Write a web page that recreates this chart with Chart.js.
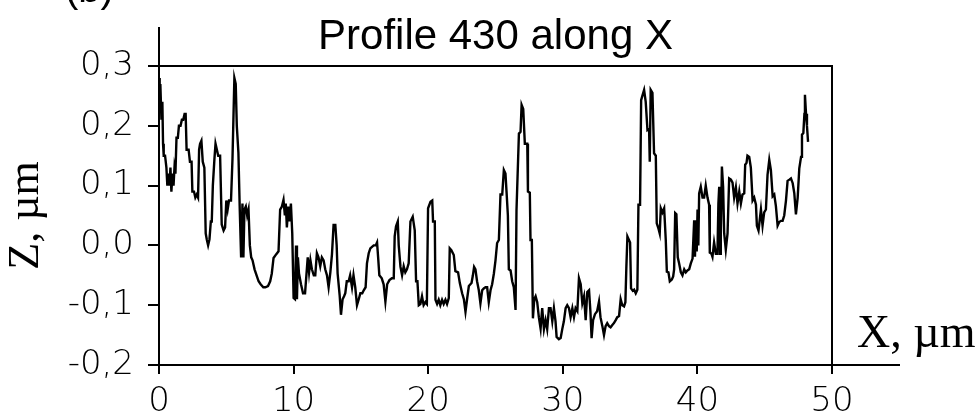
<!DOCTYPE html>
<html>
<head>
<meta charset="utf-8">
<script src="https://cdn.jsdelivr.net/npm/chart.js@4"></script>
<style>
  body { margin: 0; background: #fff; }
</style>
</head>
<body>
<canvas id="perfil" width="980" height="416"></canvas>
<script>
// Posiciones a lo largo del perfil (µm)
const posicionesX = [
  0.00, 0.05, 0.10, 0.18, 0.25, 0.30, 0.35, 0.45, 0.55, 0.62, 0.70, 0.78, 0.85, 0.92, 1.00, 1.08, 1.15, 1.22,
  1.30, 1.40, 1.48, 1.60, 1.70, 1.80, 1.90, 1.98, 2.05, 2.20, 2.30, 2.42, 2.48, 2.60, 2.70, 2.80, 2.90, 2.98,
  3.05, 3.15, 3.25, 3.37, 3.47, 3.55, 3.65, 3.75, 3.85, 3.92, 4.00, 4.12, 4.20, 4.30, 4.40, 4.54, 4.66, 4.80,
  4.91, 5.00, 5.10, 5.20, 5.35, 5.46, 5.60, 5.70, 5.78, 5.90, 6.00, 6.10, 6.20, 6.27, 6.35, 6.45, 6.55, 6.65,
  6.75, 6.85, 6.95, 7.10, 7.25, 7.40, 7.55, 7.75,
  7.90, 8.10, 8.26, 8.38, 8.51, 8.70, 8.88, 9.00, 9.13, 9.25, 9.35, 9.42, 9.50, 9.60, 9.70, 9.80, 9.90,
  10.00, 10.10, 10.18, 10.25, 10.32, 10.40, 10.55, 10.70, 10.85, 10.99, 11.05, 11.15, 11.25, 11.36, 11.50,
  11.61, 11.73, 11.85, 11.98, 12.10, 12.23, 12.35, 12.48, 12.60, 12.73, 12.85, 12.97, 13.10, 13.20, 13.27,
  13.42, 13.52, 13.64, 13.75, 13.84, 13.95, 14.09, 14.20, 14.34, 14.45, 14.58, 14.71, 14.84, 14.96, 15.10,
  15.21, 15.35, 15.45,
  15.58, 15.70, 15.95, 16.10, 16.20, 16.28, 16.37, 16.55, 16.69, 16.82, 16.95, 17.12, 17.30, 17.44, 17.51,
  17.61, 17.74, 17.81, 17.94, 18.06, 18.18, 18.30, 18.42, 18.55, 18.68, 18.85, 19.00, 19.10, 19.20, 19.30,
  19.42, 19.54, 19.66, 19.79, 19.90, 19.99, 20.17, 20.30, 20.36, 20.49, 20.54, 20.66, 20.78, 20.90, 21.03,
  21.15, 21.28, 21.40, 21.53, 21.60, 21.72, 21.90, 22.02, 22.22, 22.35, 22.52, 22.65, 22.77, 22.90, 23.02,
  23.22, 23.32, 23.41,
  23.51, 23.63, 23.76, 23.88, 24.01, 24.13, 24.26, 24.38, 24.50, 24.63, 24.75, 24.88, 25.00, 25.12, 25.25,
  25.37, 25.50, 25.62, 25.74, 25.82, 25.92, 25.99, 26.12, 26.24, 26.36, 26.49, 26.56, 26.74, 26.86, 26.94,
  27.06, 27.18, 27.36, 27.41, 27.55, 27.60, 27.70, 27.78, 27.88, 27.98, 28.10, 28.22, 28.35, 28.47, 28.60,
  28.72, 28.84, 28.97, 29.09, 29.22, 29.34, 29.46, 29.54, 29.71, 29.84, 29.96, 30.08, 30.21, 30.33, 30.46,
  30.58, 30.71, 30.83, 30.95, 31.08, 31.20, 31.33, 31.45, 31.58, 31.70, 31.82, 31.95,
  32.05, 32.14, 32.25, 32.39, 32.55, 32.69, 32.80, 32.94, 33.06, 33.18, 33.30, 33.43, 33.55, 33.68, 33.80,
  33.93, 34.05, 34.18, 34.30, 34.42, 34.55, 34.65, 34.72, 34.80, 34.90, 35.00, 35.07, 35.20, 35.30, 35.42,
  35.54, 35.62, 35.74, 35.82, 35.91, 36.04, 36.16, 36.29, 36.41, 36.46, 36.53, 36.66, 36.78, 36.91, 36.98,
  37.11, 37.20, 37.28, 37.40, 37.53, 37.65, 37.73, 37.85, 37.95, 38.10, 38.20, 38.27, 38.35, 38.44, 38.54,
  38.64, 38.77, 38.89, 39.02, 39.14, 39.26, 39.39, 39.51, 39.64, 39.76, 39.82, 39.88, 39.95, 40.01, 40.07,
  40.13,
  40.25, 40.38, 40.50, 40.62, 40.75, 40.87, 40.92, 41.05, 41.12, 41.24, 41.37, 41.49, 41.56, 41.62, 41.68,
  41.74, 41.82, 41.91, 41.99, 42.11, 42.24, 42.36, 42.49, 42.61, 42.73, 42.86, 42.98, 43.11, 43.23, 43.35,
  43.48, 43.55, 43.65, 43.72, 43.85, 43.97, 44.10, 44.22, 44.35, 44.42, 44.54, 44.72, 44.84, 44.96, 45.09,
  45.21, 45.34, 45.46, 45.59, 45.71, 45.83, 45.96, 46.08, 46.21, 46.33, 46.45, 46.58, 46.70, 46.83, 46.95,
  47.08, 47.20, 47.32, 47.45, 47.57, 47.70, 47.77, 47.87, 47.95, 47.99, 48.07, 48.14, 48.22
];

const alturasZ = [
  0.28, 0.23, 0.27, 0.21, 0.24, 0.17, 0.15, 0.15, 0.13, 0.10, 0.12, 0.10, 0.13, 0.09, 0.12, 0.10, 0.13, 0.12,
  0.18, 0.18, 0.20, 0.20, 0.21, 0.21, 0.22, 0.22, 0.16, 0.16, 0.14, 0.14, 0.09, 0.09, 0.08, 0.085, 0.08, 0.16,
  0.17, 0.175, 0.14, 0.13, 0.02, 0.01, 0.0, 0.01, 0.04, 0.04, 0.10, 0.145, 0.17, 0.16, 0.15, 0.15, 0.035, 0.025,
  0.03, 0.075, 0.06, 0.075, 0.075, 0.145, 0.28, 0.27, 0.20, 0.155, 0.06, -0.02, 0.07, -0.02, 0.06, 0.065, 0.05, 0.06,
  0.0, -0.02, -0.025, -0.04, -0.05, -0.06, -0.065, -0.07,
  -0.07, -0.068, -0.06, -0.047, -0.021, -0.015, -0.01, 0.06, 0.065, 0.076, 0.05, 0.07, 0.03, 0.065, 0.04, 0.07, 0.02,
  -0.088, -0.09, 0.0, -0.09, -0.02, -0.047, -0.065, -0.08, -0.08, -0.038, -0.02, -0.045, -0.025, -0.04, -0.05,
  -0.05, -0.013, -0.02, -0.035, -0.02, -0.025, -0.04, -0.05, -0.07, -0.045, -0.015, 0.034, 0.034, 0.0, -0.047,
  -0.083, -0.116, -0.09, -0.085, -0.08, -0.06, -0.06, -0.05, -0.07, -0.05, -0.07, -0.10, -0.09, -0.08, -0.08,
  -0.075, -0.07, -0.03,
  -0.013, -0.005, 0.0, 0.0, 0.005, -0.02, -0.05, -0.055, -0.065, -0.094, -0.065, -0.058, -0.055, -0.055, 0.015,
  0.032, 0.04, 0.0, -0.036, -0.05, -0.035, -0.045, -0.04, -0.03, 0.04, 0.048, 0.025, -0.06, -0.06, -0.10,
  -0.098, -0.085, -0.10, -0.095, -0.098, 0.062, 0.073, 0.075, 0.04, 0.04, -0.091, -0.098, -0.091, -0.10, -0.091,
  -0.098, -0.091, -0.098, -0.088, -0.005, -0.008, -0.016, -0.043, -0.045, -0.063, -0.08, -0.09, -0.111, -0.088, -0.068,
  -0.063, -0.05, -0.036,
  -0.04, -0.06, -0.075, -0.097, -0.075, -0.072, -0.07, -0.07, -0.095, -0.075, -0.065, -0.047, -0.025, 0.004, 0.009,
  0.085, 0.085, 0.126, 0.12, 0.09, 0.05, -0.04, -0.042, -0.06, -0.07, -0.108, 0.059, 0.187, 0.19, 0.235,
  0.228, 0.17, 0.17, 0.09, 0.088, 0.009, 0.009, -0.122, -0.09, -0.085, -0.095, -0.12, -0.139, -0.105, -0.14,
  -0.125, -0.14, -0.105, -0.105, -0.127, -0.105, -0.127, -0.153, -0.157, -0.155, -0.14, -0.127, -0.105, -0.10, -0.105,
  -0.12, -0.105, -0.12, -0.105, -0.11, -0.055, -0.065, -0.097, -0.085, -0.125, -0.078, -0.075,
  -0.11, -0.155, -0.125, -0.115, -0.11, -0.094, -0.12, -0.135, -0.15, -0.135, -0.13, -0.135, -0.137, -0.133, -0.13,
  -0.125, -0.12, -0.118, -0.09, -0.10, -0.102, -0.095, -0.038, 0.015, 0.01, 0.005, -0.072, -0.076, -0.074, -0.08,
  -0.074, 0.068, 0.068, 0.243, 0.25, 0.26, 0.24, 0.193, 0.195, 0.14, 0.26, 0.255, 0.154, 0.15, 0.037,
  0.028, 0.02, 0.062, 0.055, 0.062, 0.009, -0.044, -0.045, -0.06, -0.057, -0.052, -0.04, 0.054, 0.052, -0.02,
  -0.03, -0.045, -0.05, -0.04, -0.045, -0.042, -0.04, -0.03, -0.022, 0.042, -0.019, 0.04, -0.01, 0.06, 0.0,
  0.087,
  0.098, 0.08, 0.08, 0.10, 0.08, 0.068, -0.012, -0.014, -0.019, 0.005, -0.014, -0.014, 0.07, 0.098, -0.014,
  0.02, 0.132, 0.098, 0.02, -0.007, 0.02, 0.112, 0.11, 0.105, 0.08, 0.097, 0.07, 0.09, 0.07, 0.085,
  0.087, 0.135, 0.138, 0.15, 0.148, 0.13, 0.075, 0.08, 0.068, 0.033, 0.025, 0.06, 0.033, 0.055, 0.06,
  0.118, 0.143, 0.126, 0.082, 0.085, 0.066, 0.033, 0.039, 0.041, 0.041, 0.05, 0.075, 0.108, 0.11, 0.112,
  0.104, 0.087, 0.052, 0.08, 0.129, 0.148, 0.185, 0.188, 0.22, 0.252, 0.22, 0.20, 0.173
];

// Marcas de los ejes
const ticksX = [0, 10, 20, 30, 40, 50];
const ticksY = [-0.2, -0.1, 0.0, 0.1, 0.2, 0.3];

// Textos
const tituloGrafico = "Profile 430 along X";
const tituloEjeY = "Z, µm";
const tituloEjeX = "X, µm";
const etiquetaPanel = "(b)";

// Convierte 0.1 en "0,1"
function formatoComa(v) {
  return v.toFixed(1).replace(".", ",");
}

// Dibuja el marco, las prolongaciones de los ejes y los textos sueltos
const marcoPlugin = {
  id: "marco",
  afterDraw(chart) {
    const ctx = chart.ctx;
    const ejeX = chart.scales.x;
    const ejeY = chart.scales.y;
    const x0 = ejeX.getPixelForValue(0);
    const x50 = ejeX.getPixelForValue(50);
    const yArriba = ejeY.getPixelForValue(0.3);
    const yAbajo = ejeY.getPixelForValue(-0.2);

    ctx.save();
    ctx.strokeStyle = "#000";
    ctx.lineWidth = 2;
    ctx.beginPath();
    // marco superior y derecho
    ctx.moveTo(x0 - 11, yArriba);
    ctx.lineTo(x50, yArriba);
    ctx.lineTo(x50, yAbajo);
    // el eje Y sigue por encima del marco
    ctx.moveTo(x0, yArriba);
    ctx.lineTo(x0, yArriba - 39);
    // el eje X sigue a la derecha
    ctx.moveTo(x50, yAbajo);
    ctx.lineTo(x50 + 68, yAbajo);
    ctx.stroke();

    ctx.fillStyle = "#000";
    ctx.textBaseline = "alphabetic";
    ctx.textAlign = "left";
    ctx.font = "46px 'Liberation Serif'";
    ctx.fillText(tituloEjeX, x50 + 25, yAbajo - 18);
    ctx.font = "40px 'Liberation Sans'";
    ctx.fillText(etiquetaPanel, 65, 2);
    ctx.restore();
  }
};

const fuenteTicks = { family: "'DejaVu Sans'", size: 34, weight: 200 };

// Crea el gráfico
const ctx = document.getElementById("perfil").getContext("2d");
const chart = new Chart(ctx, {
  type: "line",
  data: {
    datasets: [{
      data: posicionesX.map((x, i) => ({ x: x, y: alturasZ[i] })),
      borderColor: "#000",
      borderWidth: 2.4,
      pointRadius: 0,
      tension: 0,
      fill: false
    }]
  },
  options: {
    responsive: false,
    animation: false,
    devicePixelRatio: 1,
    layout: { padding: { left: 0, right: 148, top: 0, bottom: 0 } },
    plugins: {
      legend: { display: false },
      tooltip: { enabled: false },
      title: {
        display: true,
        text: tituloGrafico,
        fullSize: false,
        color: "#000",
        font: { family: "'Liberation Sans'", size: 42, weight: "normal", lineHeight: 1.2 },
        padding: { top: 12, bottom: 3.6 }
      }
    },
    scales: {
      x: {
        type: "linear",
        min: 0,
        max: 50,
        afterBuildTicks: s => { s.ticks = ticksX.map(v => ({ value: v })); },
        afterFit: s => { s.height = 51; },
        grid: { drawOnChartArea: false, drawTicks: true, tickLength: 9, lineWidth: 2, color: "#000" },
        border: { display: true, color: "#000", width: 2 },
        ticks: {
          color: "#000",
          font: fuenteTicks,
          padding: 8,
          maxRotation: 0,
          autoSkip: false,
          callback: v => String(v)
        }
      },
      y: {
        type: "linear",
        min: -0.2,
        max: 0.3,
        afterBuildTicks: s => { s.ticks = ticksY.map(v => ({ value: v })); },
        afterFit: s => { s.width = 159; },
        grid: { drawOnChartArea: false, drawTicks: true, tickLength: 11, lineWidth: 2, color: "#000" },
        border: { display: true, color: "#000", width: 2 },
        ticks: {
          color: "#000",
          font: fuenteTicks,
          padding: 14,
          autoSkip: false,
          callback: v => formatoComa(v)
        },
        title: {
          display: true,
          text: tituloEjeY,
          color: "#000",
          font: { family: "'Liberation Serif'", size: 44, weight: "normal" },
          padding: { top: 0, bottom: 0 }
        }
      }
    }
  },
  plugins: [marcoPlugin]
});
</script>
</body>
</html>
